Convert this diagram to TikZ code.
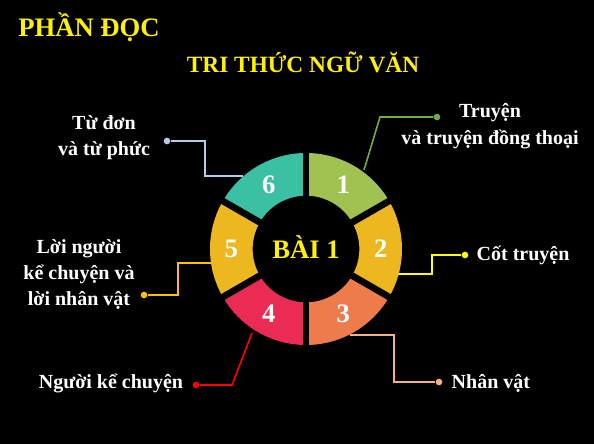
\documentclass[tikz,border=0pt]{standalone}
\usepackage{fontspec}
\setmainfont{Liberation Serif}
\usetikzlibrary{arrows.meta}

\definecolor{verde}{HTML}{A1C150}
\definecolor{dorado}{HTML}{ECB71F}
\definecolor{naranja}{HTML}{ED7B4B}
\definecolor{carmesi}{HTML}{EA2C54}
\definecolor{turquesa}{HTML}{3CC0A3}
\definecolor{lineaA}{HTML}{70AD47}
\definecolor{lineaB}{HTML}{FFFF00}
\definecolor{lineaC}{HTML}{F4B183}
\definecolor{lineaD}{HTML}{FF0000}
\definecolor{lineaE}{HTML}{FFC000}
\definecolor{lineaF}{HTML}{B4CCE6}

\begin{document}
\begin{tikzpicture}[x = 0.75pt, y = -0.75pt, dot/.style = {circle, inner sep = 0pt, minimum size = 5pt}, conector/.style = {line width = 1.2pt}, etiqueta/.style = {text = white, align = center, font = \bfseries\fontsize{15}{19.5}\selectfont}, numero/.style = {text = white, font = \bfseries\fontsize{20}{24}\selectfont}]
    % Radios del anillo (en pt).
    \pgfmathsetmacro{\rExt}{72}
    \pgfmathsetmacro{\rInt}{40}
    \pgfmathsetmacro{\rNum}{56}

    % Fondo negro y tamaño de la imagen:
    \fill[black] (0, 0) rectangle (594, 444);
    \useasboundingbox (0, 0) rectangle (594, 444);

    % Títulos.
    \node[text = yellow, font = \bfseries\fontsize{20}{24}\selectfont] (parte) at (89, 27) {PHẦN ĐỌC};
    \node[text = yellow, font = \bfseries\fontsize{17.5}{21}\selectfont] (tema) at (303, 62) {TRI THỨC NGỮ VĂN};

    \coordinate (C) at (306, 249);

    % Conectores (van debajo del anillo).
    \coordinate (a1) at (364, 170);
    \node[dot, fill = lineaA] (d1) at (437, 117) {};
    \draw[conector, lineaA] (a1) -- (380, 117) -- (d1);

    \coordinate (a2) at (397, 274);
    \node[dot, fill = lineaB] (d2) at (465, 255) {};
    \draw[conector, lineaB] (a2) -- (432, 274) |- (d2);

    \coordinate (a3) at (350, 335);
    \node[dot, fill = lineaC] (d3) at (439, 382) {};
    \draw[conector, lineaC] (a3) -- (394, 335) |- (d3);

    \coordinate (a4) at (252, 333);
    \node[dot, fill = lineaD] (d4) at (196, 385) {};
    \draw[conector, lineaD] (a4) -- (232, 385) -- (d4);

    \coordinate (a5) at (212, 263);
    \node[dot, fill = lineaE] (d5) at (144, 295) {};
    \draw[conector, lineaE] (a5) -- (178, 263) |- (d5);

    \coordinate (a6) at (243, 176);
    \node[dot, fill = lineaF] (d6) at (167, 141) {};
    \draw[conector, lineaF] (a6) -- (205, 176) |- (d6);

    % Sectores del anillo:
    \foreach \ang/\col in {30/verde, -30/dorado, -90/naranja, -150/carmesi, 150/dorado, 90/turquesa}
        \fill[\col] ([shift = {(C)}]\ang:\rExt pt) arc[start angle = \ang, delta angle = 60, radius = \rExt pt] -- ([shift = {(C)}]\ang + 60:\rInt pt) arc[start angle = \ang + 60, delta angle = -60, radius = \rInt pt] -- cycle;

    % Separaciones entre sectores.
    \foreach \ang in {30, 90, ..., 330}
        \draw[black, line width = 5pt] (C) -- ([shift = {(C)}]\ang:\rExt pt + 4pt);

    \foreach \ang/\num in {60/1, 0/2, -60/3, -120/4, 180/5, 120/6}
        \node[numero] (n\num) at ([shift = {(C)}]\ang:\rNum pt) {\num};

    \node[text = yellow, font = \bfseries\fontsize{20}{24}\selectfont] (bai) at (306, 247) {BÀI 1};

    % Etiquetas.
    \node[etiqueta, font = \bfseries\fontsize{15}{20.5}\selectfont] (l1) at (490, 126) {Truyện\\và truyện đồng thoại};
    \node[etiqueta, anchor = west] (l2) at (472, 255) {Cốt truyện};
    \node[etiqueta, anchor = west] (l3) at (447, 383) {Nhân vật};
    \node[etiqueta] (l4) at (111, 383) {Người kể chuyện};
    \node[etiqueta] (l5) at (79, 275) {Lời người\\kể chuyện và\\lời nhân vật};
    \node[etiqueta] (l6) at (104, 138) {Từ đơn\\và từ phức};
\end{tikzpicture}
\end{document}
